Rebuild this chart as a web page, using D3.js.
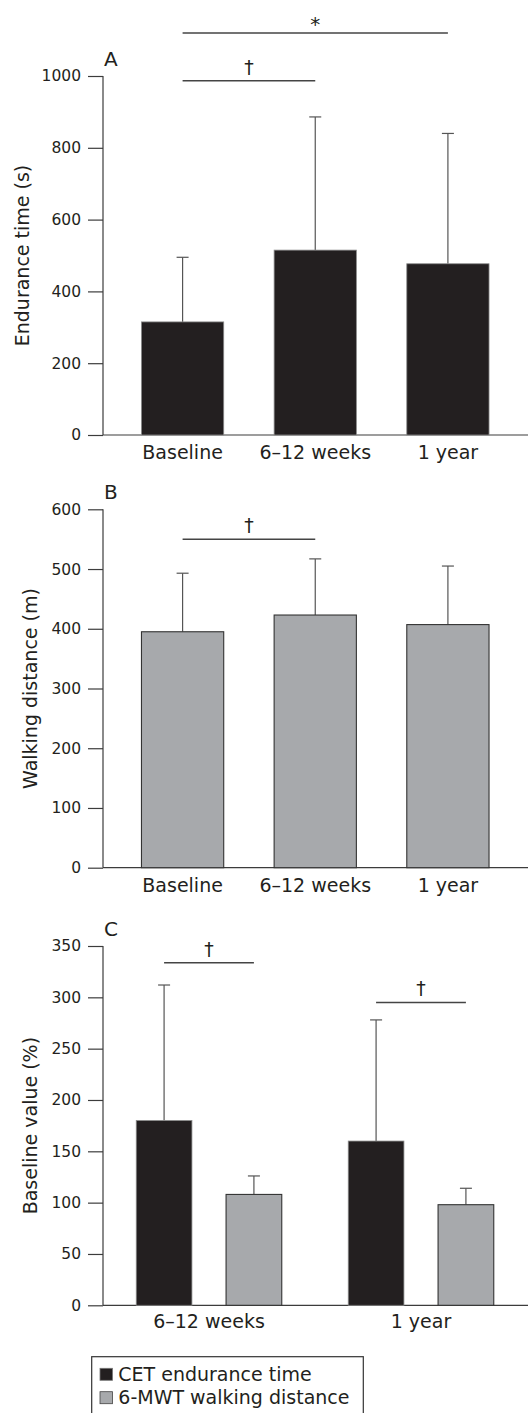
<!DOCTYPE html>
<html>
<head>
<meta charset="utf-8">
<script src="https://cdn.jsdelivr.net/npm/d3@7"></script>
<style>
  html, body { margin: 0; padding: 0; background: #fff; }
  svg { display: block; }
  text { font-family: "DejaVu Sans", sans-serif; fill: #231f20; }
</style>
</head>
<body>
<svg id="chart" width="528" height="1413"></svg>
<script>
// ---------- data ----------
const timeCategories = ["Baseline", "6–12 weeks", "1 year"];
const enduranceMean = [315, 515, 477];
const enduranceSD = [180, 371, 363];
const walkingMean = [395, 423, 407];
const walkingSD = [98, 94, 98];

const followupCategories = ["6–12 weeks", "1 year"];
const seriesNames = ["CET endurance time", "6-MWT walking distance"];
const cetPercentMean = [180, 160];
const cetPercentSD = [132, 118];
const mwtPercentMean = [108, 98];
const mwtPercentSD = [18, 16];

const ticksA = [0, 200, 400, 600, 800, 1000];
const ticksB = [0, 100, 200, 300, 400, 500, 600];
const ticksC = [0, 50, 100, 150, 200, 250, 300, 350];

// significance brackets: [from, to, level, symbol]
const sigA = [["Baseline", "1 year", 1120, "*"], ["Baseline", "6–12 weeks", 987, "†"]];
const sigB = [["Baseline", "6–12 weeks", 550, "†"]];
const sigC = [[0, 333.7, "†"], [1, 295, "†"]]; // [group index, level, symbol]

// ---------- styles ----------
const BLACK = "#231f20", GREY = "#a7a9ac";
const AXIS = "#3c3c3c", ERR = "#555", SIGC = "#444";
const svg = d3.select("#chart");
const axisX = 103, rightX = 528;

function drawYAxis(g, y, ticks, title, letter, titleX) {
  const ax = g.append("g").attr("transform", `translate(${axisX},0)`)
    .call(d3.axisLeft(y).tickValues(ticks).tickSize(15).tickPadding(7).tickFormat(d3.format("d")));
  ax.select(".domain").remove();
  ax.selectAll(".tick line").attr("stroke", AXIS).attr("stroke-width", 1.2);
  ax.selectAll(".tick text").style("font-size", "15.5px").style("font-family", "DejaVu Sans").attr("fill", "#231f20");
  const [y0, y1] = [y(ticks[0]), y(ticks[ticks.length - 1])];
  g.append("line").attr("x1", axisX).attr("x2", axisX).attr("y1", y0).attr("y2", y1)
    .attr("stroke", AXIS).attr("stroke-width", 1.2);
  g.append("line").attr("x1", axisX).attr("x2", rightX).attr("y1", y0).attr("y2", y0)
    .attr("stroke", AXIS).attr("stroke-width", 1.2);
  g.append("text").attr("transform", `translate(${titleX},${(y0 + y1) / 2}) rotate(-90)`)
    .attr("text-anchor", "middle").style("font-size", "19px").text(title);
  g.append("text").attr("x", 104).attr("y", y1 - 10).style("font-size", "20px").text(letter);
}

function errorBar(g, cx, yTop, yEnd) {
  g.append("line").attr("x1", cx).attr("x2", cx).attr("y1", yTop).attr("y2", yEnd)
    .attr("stroke", ERR).attr("stroke-width", 1.2);
  g.append("line").attr("x1", cx - 6).attr("x2", cx + 6).attr("y1", yEnd).attr("y2", yEnd)
    .attr("stroke", ERR).attr("stroke-width", 1.2);
}

function sigLine(g, xa, xb, yy, sym) {
  g.append("line").attr("x1", xa).attr("x2", xb).attr("y1", yy).attr("y2", yy)
    .attr("stroke", SIGC).attr("stroke-width", 1.5);
  g.append("text").attr("x", (xa + xb) / 2).attr("y", sym === "*" ? yy - 2 : yy - 7)
    .attr("text-anchor", "middle").style("font-size", sym === "*" ? "20px" : "19px").text(sym);
}

function catLabels(g, x, cats, yBase) {
  g.selectAll(null).data(cats).enter().append("text")
    .attr("x", d => x(d) + x.bandwidth() / 2).attr("y", yBase + 24)
    .attr("text-anchor", "middle").style("font-size", "19px").text(d => d);
}

// ---------- Panel A ----------
{
  const g = svg.append("g");
  const x = d3.scaleBand().domain(timeCategories).range([axisX, 527.5]).paddingInner(0.38).paddingOuter(0.29);
  const y = d3.scaleLinear().domain([0, 1000]).range([435, 76]);
  drawYAxis(g, y, ticksA, "Endurance time (s)", "A", 28.5);
  timeCategories.forEach((c, i) => {
    errorBar(g, x(c) + x.bandwidth() / 2, y(enduranceMean[i]), y(enduranceMean[i] + enduranceSD[i]));
  });
  g.selectAll(".barA").data(timeCategories).enter().append("rect")
    .attr("x", d => x(d)).attr("width", x.bandwidth())
    .attr("y", (d, i) => y(enduranceMean[i])).attr("height", (d, i) => y(0) - y(enduranceMean[i]))
    .attr("fill", BLACK).attr("stroke", "#8a8a8a").attr("stroke-width", 0.8);
  sigA.forEach(([a, b, v, s]) => sigLine(g, x(a) + x.bandwidth() / 2, x(b) + x.bandwidth() / 2, y(v), s));
  catLabels(g, x, timeCategories, y(0));
}

// ---------- Panel B ----------
{
  const g = svg.append("g");
  const x = d3.scaleBand().domain(timeCategories).range([axisX, 527.5]).paddingInner(0.38).paddingOuter(0.29);
  const y = d3.scaleLinear().domain([0, 600]).range([867.7, 509.3]);
  drawYAxis(g, y, ticksB, "Walking distance (m)", "B", 36.5);
  timeCategories.forEach((c, i) => {
    errorBar(g, x(c) + x.bandwidth() / 2, y(walkingMean[i]), y(walkingMean[i] + walkingSD[i]));
  });
  g.selectAll(".barB").data(timeCategories).enter().append("rect")
    .attr("x", d => x(d)).attr("width", x.bandwidth())
    .attr("y", (d, i) => y(walkingMean[i])).attr("height", (d, i) => y(0) - y(walkingMean[i]))
    .attr("fill", GREY).attr("stroke", "#333").attr("stroke-width", 1.1);
  sigB.forEach(([a, b, v, s]) => sigLine(g, x(a) + x.bandwidth() / 2, x(b) + x.bandwidth() / 2, y(v), s));
  catLabels(g, x, timeCategories, y(0));
}

// ---------- Panel C ----------
{
  const g = svg.append("g");
  const x0 = d3.scaleBand().domain(followupCategories).range([axisX, 527]);
  const x1 = d3.scaleBand().domain(seriesNames).range([0, x0.bandwidth()]).paddingInner(0.38).paddingOuter(0.37);
  const y = d3.scaleLinear().domain([0, 350]).range([1305.3, 946]);
  drawYAxis(g, y, ticksC, "Baseline value (%)", "C", 37);
  const means = [cetPercentMean, mwtPercentMean];
  const sds = [cetPercentSD, mwtPercentSD];
  const fills = [BLACK, GREY];
  const strokes = ["#8a8a8a", "#333"];
  followupCategories.forEach((c, gi) => {
    seriesNames.forEach((s, si) => {
      const bx = x0(c) + x1(s);
      errorBar(g, bx + x1.bandwidth() / 2, y(means[si][gi]), y(means[si][gi] + sds[si][gi]));
      g.append("rect").attr("x", bx).attr("width", x1.bandwidth())
        .attr("y", y(means[si][gi])).attr("height", y(0) - y(means[si][gi]))
        .attr("fill", fills[si]).attr("stroke", strokes[si]).attr("stroke-width", si ? 1.1 : 0.8);
    });
  });
  sigC.forEach(([gi, v, s]) => {
    const c = followupCategories[gi];
    sigLine(g, x0(c) + x1(seriesNames[0]) + x1.bandwidth() / 2, x0(c) + x1(seriesNames[1]) + x1.bandwidth() / 2, y(v), s);
  });
  g.selectAll(null).data(followupCategories).enter().append("text")
    .attr("x", d => x0(d) + x0.bandwidth() / 2).attr("y", y(0) + 23)
    .attr("text-anchor", "middle").style("font-size", "19px").text(d => d);

  // legend
  const lg = svg.append("g");
  lg.append("rect").attr("x", 91.7).attr("y", 1356.7).attr("width", 271.6).attr("height", 70)
    .attr("fill", "none").attr("stroke", "#333").attr("stroke-width", 1.2);
  seriesNames.forEach((s, i) => {
    const yy = 1368.3 + i * 23.4;
    lg.append("rect").attr("x", 100).attr("y", yy).attr("width", 12.5).attr("height", 12)
      .attr("fill", fills[i]).attr("stroke", i ? "#444" : "#777").attr("stroke-width", 0.8);
    lg.append("text").attr("x", 118.3).attr("y", yy + 12.5).style("font-size", "19px").text(s);
  });
}
</script>
</body>
</html>
